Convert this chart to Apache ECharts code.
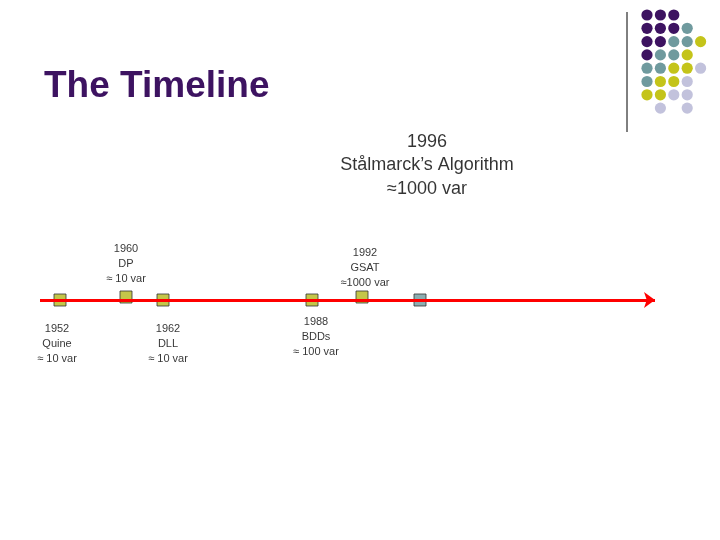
<!DOCTYPE html><html><head><meta charset="utf-8"><script src="https://cdn.jsdelivr.net/npm/echarts@6/dist/echarts.min.js"></script></head><body style="margin:0"><div id="c" style="width:720px;height:540px"></div><script>
const years=['1952','1960','1962','1988','1992','1996'];
const names=['Quine','DP','DLL','BDDs','GSAT','Stålmarck’s Algorithm'];
const sizes=['≈ 10 var','≈ 10 var','≈ 10 var','≈ 100 var','≈1000 var','≈1000 var'];
const pos=[60,126,163,312,362,420];
const lane=[300,297,300,300,297,300];
const side=['below','above','below','below','above','big'];
const colors=['#b5b81c','#b5b81c','#b5b81c','#b5b81c','#b5b81c','#6f9a9e'];
const axisRange=[40,655];
const dotRows=['PPP','PPPT','PPTTY','PTTY','TTYYL','TYYL','YYLL',' L L'];
const dotCol={P:'#3d1361',T:'#6f9a9e',Y:'#c4c41a',L:'#c2c2dc'};
const chart=echarts.init(document.getElementById('c'));
const gfx=[{type:'text',left:44,top:68,style:{text:'The Timeline',font:'bold 37px Liberation Sans, Arial',fill:'#3d1361'}},
{type:'line',shape:{x1:627,y1:12,x2:627,y2:132},style:{stroke:'#000',lineWidth:1}}];
dotRows.forEach((r,i)=>r.split('').forEach((c,j)=>{if(dotCol[c])gfx.push({type:'circle',shape:{cx:647+j*13.4,cy:15+i*13.3,r:5.6},style:{fill:dotCol[c]}});}));
const dist=[15,4,15,8,0,93];
const offs=[-3,0,5,4,3,7];
const pts=years.map((y,i)=>{
 const t=y+'\n'+names[i]+'\n'+sizes[i];
 const big=side[i]==='big';
 const label={show:true,position:side[i]==='below'?'bottom':'top',distance:dist[i],formatter:t,fontSize:big?18:11,lineHeight:big?23.5:15,color:'#000',fontFamily:'Liberation Sans',offset:[offs[i],0]};
 return {value:[pos[i],lane[i]],itemStyle:{color:colors[i]},label};
});
chart.setOption({animation:false,graphic:gfx,
grid:{left:0,right:0,top:0,bottom:0},
xAxis:{type:'value',min:0,max:720,show:false},
yAxis:{type:'value',min:0,max:540,inverse:true,show:false},
series:[{type:'line',data:[],markLine:{silent:true,symbol:['none','arrow'],symbolSize:[12,11],label:{show:false},lineStyle:{color:'#ff0000',width:3,type:'solid'},data:[[{coord:[axisRange[0],300]},{coord:[axisRange[1],300]}]]},z:1},
{type:'scatter',symbol:'rect',symbolSize:12,data:pts,itemStyle:{borderColor:'#333',borderWidth:1},z:3}]});
</script></body></html>
